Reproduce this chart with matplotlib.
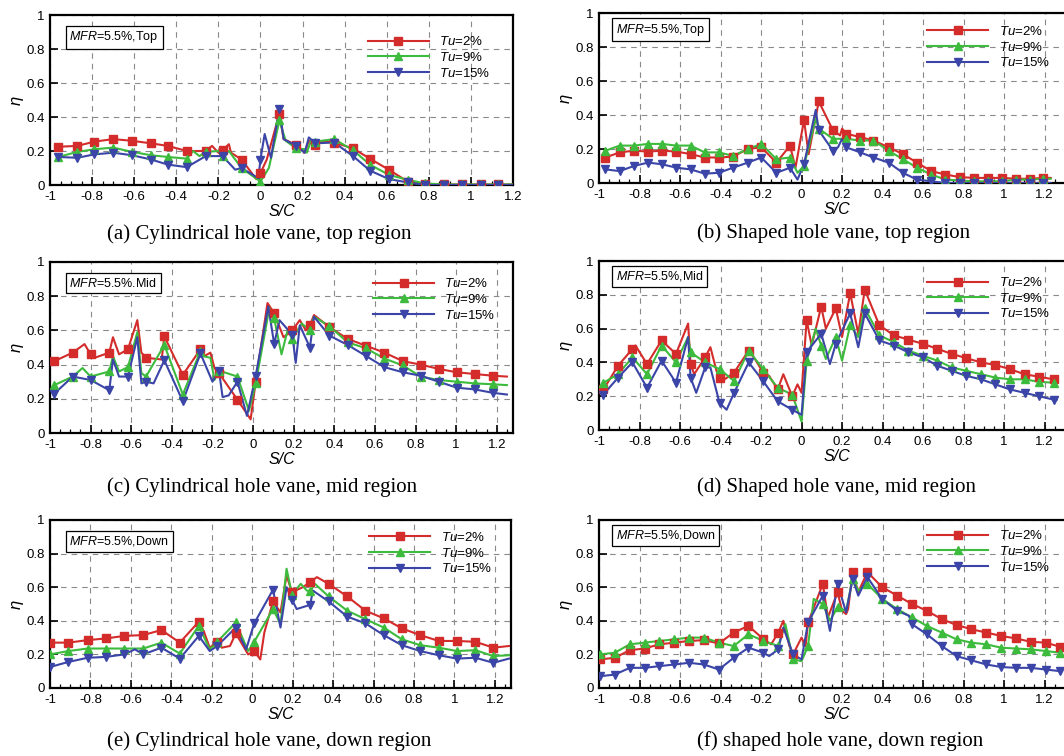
import matplotlib
matplotlib.use('Agg')
import matplotlib.pyplot as plt
from matplotlib.ticker import MultipleLocator, FuncFormatter

plt.rcParams['font.family'] = ['Liberation Sans', 'DejaVu Sans']
plt.rcParams['mathtext.fontset'] = 'custom'
plt.rcParams['mathtext.it'] = 'Liberation Sans:italic'
plt.rcParams['mathtext.rm'] = 'Liberation Sans'

# ---------------- (a) cylindrical hole, top ----------------
a_mx = [-0.96, -0.87, -0.79, -0.70, -0.61, -0.52, -0.44, -0.35, -0.26, -0.18, -0.09, 0.0,
        0.09, 0.17, 0.26, 0.35, 0.44, 0.52, 0.61, 0.70, 0.78, 0.87, 0.96, 1.05, 1.13]
a_tu2 = [0.225, 0.23, 0.255, 0.27, 0.26, 0.245, 0.23, 0.20, 0.20, 0.205, 0.15, 0.07,
         0.42, 0.235, 0.235, 0.25, 0.215, 0.155, 0.09, 0.02, 0.005, 0.003, 0.003, 0.003, 0.003]
a_tu2_ex = [(-0.23, 0.23), (-0.20, 0.19), (-0.15, 0.24), (-0.14, 0.19), (-0.02, 0.035),
            (0.03, 0.15), (0.11, 0.27), (0.21, 0.19), (0.23, 0.26), (0.30, 0.26), (1.2, 0.003)]
a_tu9 = [0.165, 0.195, 0.21, 0.22, 0.195, 0.175, 0.165, 0.155, 0.195, 0.17, 0.10, 0.02,
         0.38, 0.215, 0.255, 0.27, 0.205, 0.12, 0.06, 0.03, 0.01, 0.003, 0.003, 0.003, 0.003]
a_tu9_ex = [(-0.32, 0.20), (-0.29, 0.17), (-0.20, 0.20), (-0.15, 0.20), (0.04, 0.10),
            (0.12, 0.26), (0.21, 0.21), (0.22, 0.19), (0.24, 0.26), (1.2, 0.003)]
a_tu15 = [0.165, 0.16, 0.18, 0.19, 0.175, 0.15, 0.12, 0.105, 0.17, 0.17, 0.10, 0.15,
          0.45, 0.23, 0.245, 0.25, 0.17, 0.085, 0.035, 0.015, 0.0, 0.0, 0.0, 0.0, 0.0]
a_tu15_ex = [(-0.12, 0.09), (-0.01, 0.04), (0.02, 0.30), (0.05, 0.16), (0.11, 0.27),
             (0.21, 0.19), (0.23, 0.28), (1.2, 0.0)]

# ---------------- (b) shaped hole, top ----------------
b_mx = [-0.968, -0.898, -0.828, -0.758, -0.688, -0.618, -0.548, -0.478, -0.408, -0.339,
        -0.265, -0.199, -0.124, -0.057, 0.012, 0.085, 0.155, 0.22, 0.29, 0.355, 0.43,
        0.50, 0.57, 0.64, 0.71, 0.78, 0.85, 0.92, 0.99, 1.06, 1.13, 1.19]
b_tu2 = [0.15, 0.18, 0.19, 0.185, 0.19, 0.185, 0.17, 0.15, 0.15, 0.155, 0.20, 0.21,
         0.12, 0.22, 0.37, 0.48, 0.31, 0.29, 0.27, 0.25, 0.21, 0.17, 0.12, 0.07, 0.05,
         0.035, 0.03, 0.03, 0.03, 0.025, 0.025, 0.03]
b_tu2_ex = [(-0.03, 0.09), (0.035, 0.17), (0.19, 0.28), (0.20, 0.32), (1.23, 0.03)]
b_tu9 = [0.19, 0.22, 0.22, 0.23, 0.23, 0.22, 0.22, 0.18, 0.18, 0.16, 0.20, 0.23,
         0.14, 0.15, 0.10, 0.32, 0.26, 0.26, 0.25, 0.25, 0.19, 0.14, 0.09, 0.05, 0.02,
         0.015, 0.01, 0.01, 0.01, 0.02, 0.02, 0.025]
b_tu9_ex = [(-0.02, 0.06), (0.07, 0.38), (1.23, 0.025)]
b_tu15 = [0.08, 0.07, 0.10, 0.12, 0.11, 0.09, 0.08, 0.055, 0.06, 0.09, 0.12, 0.15,
          0.06, 0.09, 0.11, 0.31, 0.19, 0.21, 0.18, 0.15, 0.12, 0.06, 0.02, 0.01, 0.0,
          0.0, 0.0, 0.0, 0.0, 0.0, 0.0, 0.0]
b_tu15_ex = [(-0.02, 0.02), (0.07, 0.43), (0.18, 0.21), (0.20, 0.26), (1.23, 0.0)]

# ---------------- (c) cylindrical hole, mid ----------------
c_mx = [-0.979, -0.888, -0.80, -0.708, -0.616, -0.527, -0.437, -0.346, -0.259, -0.168,
        -0.077, 0.013, 0.104, 0.193, 0.28, 0.375, 0.466, 0.557, 0.647, 0.738, 0.825,
        0.914, 1.003, 1.092, 1.18]
c_tu2 = [0.42, 0.47, 0.46, 0.47, 0.49, 0.44, 0.565, 0.34, 0.49, 0.35, 0.195, 0.30,
         0.70, 0.60, 0.63, 0.62, 0.55, 0.51, 0.47, 0.42, 0.40, 0.375, 0.355, 0.345, 0.335]
c_tu2_ex = [(-0.83, 0.52), (-0.78, 0.44), (-0.69, 0.56), (-0.66, 0.46), (-0.57, 0.66),
            (-0.55, 0.47), (-0.45, 0.43), (-0.24, 0.45), (-0.21, 0.47), (-0.19, 0.38),
            (-0.012, 0.08), (0.071, 0.76), (0.15, 0.56), (0.23, 0.66), (0.26, 0.60),
            (0.30, 0.69), (1.25, 0.33)]
c_tu9 = [0.28, 0.33, 0.33, 0.36, 0.385, 0.33, 0.515, 0.225, 0.48, 0.365, 0.33, 0.29,
         0.67, 0.55, 0.60, 0.625, 0.53, 0.495, 0.435, 0.395, 0.33, 0.31, 0.30, 0.29, 0.285]
c_tu9_ex = [(-0.84, 0.38), (-0.69, 0.45), (-0.66, 0.36), (-0.57, 0.59), (-0.55, 0.35),
            (-0.25, 0.45), (-0.21, 0.44), (-0.19, 0.31), (-0.02, 0.13), (0.08, 0.73),
            (0.14, 0.46), (0.17, 0.60), (0.24, 0.64), (0.30, 0.68), (1.25, 0.28)]
c_tu15 = [0.23, 0.33, 0.31, 0.25, 0.33, 0.30, 0.425, 0.185, 0.465, 0.365, 0.30, 0.335,
          0.52, 0.575, 0.50, 0.57, 0.515, 0.45, 0.385, 0.355, 0.335, 0.30, 0.265, 0.255, 0.235]
c_tu15_ex = [(-0.69, 0.43), (-0.66, 0.33), (-0.57, 0.56), (-0.55, 0.29), (-0.49, 0.29),
             (-0.20, 0.30), (-0.15, 0.21), (-0.12, 0.22), (-0.03, 0.10), (0.075, 0.74),
             (0.13, 0.66), (0.21, 0.41), (0.23, 0.63), (0.30, 0.68), (1.25, 0.225)]

# ---------------- (d) shaped hole, mid ----------------
d_mx = [-0.978, -0.906, -0.835, -0.763, -0.691, -0.62, -0.548, -0.476, -0.405, -0.333,
        -0.261, -0.19, -0.118, -0.046, 0.025, 0.097, 0.169, 0.24, 0.312, 0.384, 0.456,
        0.527, 0.599, 0.671, 0.742, 0.814, 0.886, 0.957, 1.029, 1.101, 1.172, 1.244]
d_tu2 = [0.24, 0.38, 0.48, 0.39, 0.53, 0.45, 0.39, 0.43, 0.31, 0.34, 0.47, 0.34, 0.24,
         0.20, 0.65, 0.73, 0.72, 0.81, 0.83, 0.62, 0.56, 0.535, 0.51, 0.48, 0.45, 0.425,
         0.40, 0.385, 0.36, 0.33, 0.315, 0.30]
d_tu2_ex = [(-0.82, 0.50), (-0.56, 0.63), (-0.53, 0.33), (-0.45, 0.49), (-0.42, 0.35),
            (-0.38, 0.30), (-0.23, 0.42), (-0.16, 0.32), (-0.09, 0.33), (-0.02, 0.27),
            (0.0, 0.22), (0.05, 0.50), (0.12, 0.60), (0.2, 0.55), (0.28, 0.57), (1.26, 0.30)]
d_tu9 = [0.28, 0.33, 0.43, 0.33, 0.50, 0.40, 0.46, 0.40, 0.36, 0.29, 0.47, 0.36, 0.25,
         0.21, 0.41, 0.50, 0.55, 0.62, 0.72, 0.56, 0.52, 0.47, 0.44, 0.41, 0.37, 0.35,
         0.33, 0.31, 0.30, 0.30, 0.285, 0.28]
d_tu9_ex = [(-0.56, 0.55), (0.0, 0.05), (0.07, 0.60), (0.12, 0.42), (0.2, 0.41),
            (0.28, 0.55), (1.26, 0.28)]
d_tu15 = [0.21, 0.31, 0.40, 0.25, 0.41, 0.28, 0.31, 0.37, 0.16, 0.22, 0.40, 0.29, 0.17,
          0.12, 0.46, 0.57, 0.51, 0.69, 0.69, 0.53, 0.50, 0.46, 0.43, 0.38, 0.35, 0.32,
          0.30, 0.27, 0.24, 0.22, 0.20, 0.18]
d_tu15_ex = [(-0.56, 0.55), (-0.52, 0.22), (-0.45, 0.37), (-0.37, 0.12), (0.0, 0.09),
             (0.14, 0.39), (0.28, 0.49), (1.26, 0.18)]

# ---------------- (e) cylindrical hole, down ----------------
e_mx = [-1.0, -0.909, -0.814, -0.723, -0.633, -0.539, -0.449, -0.358, -0.264, -0.173,
        -0.081, 0.01, 0.103, 0.197, 0.287, 0.378, 0.47, 0.56, 0.65, 0.74, 0.83, 0.923,
        1.013, 1.104, 1.193]
e_tu2 = [0.27, 0.27, 0.285, 0.295, 0.31, 0.315, 0.345, 0.27, 0.395, 0.275, 0.325, 0.22,
         0.515, 0.57, 0.63, 0.62, 0.545, 0.46, 0.415, 0.355, 0.315, 0.28, 0.28, 0.275, 0.24]
e_tu2_ex = [(-0.24, 0.34), (-0.21, 0.24), (-0.15, 0.24), (-0.11, 0.25), (-0.02, 0.20),
            (0.04, 0.17), (0.06, 0.33), (0.14, 0.45), (0.17, 0.67), (0.25, 0.60),
            (0.32, 0.66), (1.27, 0.25)]
e_tu9 = [0.20, 0.22, 0.235, 0.235, 0.235, 0.235, 0.27, 0.205, 0.37, 0.275, 0.39, 0.275,
         0.47, 0.555, 0.575, 0.545, 0.46, 0.41, 0.36, 0.29, 0.255, 0.24, 0.22, 0.225, 0.19]
e_tu9_ex = [(-0.21, 0.23), (-0.02, 0.22), (0.14, 0.38), (0.17, 0.71), (0.24, 0.62),
            (0.27, 0.58), (0.31, 0.62), (1.27, 0.195)]
e_tu15 = [0.125, 0.155, 0.18, 0.185, 0.20, 0.20, 0.24, 0.175, 0.31, 0.25, 0.36, 0.385,
          0.585, 0.525, 0.495, 0.515, 0.425, 0.385, 0.315, 0.255, 0.22, 0.195, 0.175, 0.18, 0.15]
e_tu15_ex = [(-0.58, 0.23), (-0.21, 0.22), (-0.03, 0.23), (0.14, 0.36), (0.17, 0.60),
             (0.22, 0.47), (0.30, 0.58), (1.27, 0.175)]

# ---------------- (f) shaped hole, down ----------------
f_mx = [-0.995, -0.922, -0.848, -0.775, -0.702, -0.628, -0.555, -0.482, -0.408, -0.335,
        -0.262, -0.188, -0.115, -0.042, 0.032, 0.105, 0.178, 0.252, 0.325, 0.398, 0.472,
        0.545, 0.618, 0.692, 0.765, 0.838, 0.912, 0.985, 1.058, 1.132, 1.205, 1.278]
f_tu2 = [0.17, 0.18, 0.225, 0.235, 0.26, 0.27, 0.28, 0.285, 0.265, 0.33, 0.37, 0.29,
         0.33, 0.20, 0.39, 0.62, 0.57, 0.69, 0.69, 0.60, 0.55, 0.50, 0.46, 0.41, 0.375,
         0.35, 0.33, 0.31, 0.295, 0.275, 0.27, 0.245]
f_tu2_ex = [(-0.15, 0.26), (-0.09, 0.40), (-0.06, 0.25), (0.0, 0.30), (0.02, 0.25),
            (0.13, 0.42), (0.2, 0.46), (0.22, 0.44), (0.23, 0.47), (0.28, 0.57)]
f_tu9 = [0.20, 0.21, 0.26, 0.27, 0.28, 0.29, 0.30, 0.30, 0.27, 0.25, 0.32, 0.28, 0.25,
         0.17, 0.25, 0.50, 0.48, 0.65, 0.62, 0.53, 0.47, 0.42, 0.37, 0.33, 0.29, 0.27,
         0.26, 0.24, 0.235, 0.23, 0.22, 0.21]
f_tu9_ex = [(-0.08, 0.38), (0.0, 0.16), (0.06, 0.53), (0.14, 0.40), (0.22, 0.46),
            (0.28, 0.58)]
f_tu15 = [0.07, 0.08, 0.12, 0.12, 0.13, 0.14, 0.15, 0.14, 0.11, 0.18, 0.24, 0.21, 0.23,
          0.20, 0.39, 0.55, 0.62, 0.65, 0.66, 0.53, 0.46, 0.38, 0.32, 0.25, 0.19, 0.165,
          0.14, 0.125, 0.12, 0.12, 0.11, 0.10]
f_tu15_ex = [(-0.16, 0.19), (-0.09, 0.36), (0.0, 0.17), (0.14, 0.34), (0.22, 0.45),
             (0.28, 0.55), (0.53, 0.43)]

labels = ['$\\mathit{Tu}$=2%', '$\\mathit{Tu}$=9%', '$\\mathit{Tu}$=15%']
colors = ['#d42b2b', '#3dbb3d', '#3b45a8']
markers = ['s', '^', 'v']

W, H = 1064, 756
fig = plt.figure(figsize=(W / 100, H / 100), dpi=100)


def curve(mx, my, extra):
    pts = sorted(list(zip(mx, my)) + list(extra))
    return [p[0] for p in pts], [p[1] for p in pts]


def tick_text(v, pos):
    if abs(v) < 1e-9:
        return '0'
    return f'{v:.1f}'.rstrip('0').rstrip('.')


def panel(px, xmax, mx, series, note, note_xy, leg_xy, caption, cap_xy):
    left, top, right, bottom = px
    ax = fig.add_axes([left / W, 1 - bottom / H, (right - left) / W, (bottom - top) / H])
    handles = []
    for (my, extra), col, mk, lab in zip(series, colors, markers, labels):
        x, y = curve(mx, my, extra)
        ax.plot(x, y, color=col, lw=1.5, zorder=3)
        ax.plot(mx, my, ls='none', marker=mk, ms=5.5, color=col, mec=col, zorder=4)
        h, = ax.plot([], [], color=col, lw=1.5, marker=mk, ms=6, label=lab)
        handles.append(h)
    ax.set_xlim(-1, xmax)
    ax.set_ylim(0, 1)
    ax.xaxis.set_major_locator(MultipleLocator(0.2))
    ax.xaxis.set_minor_locator(MultipleLocator(0.05))
    ax.yaxis.set_major_locator(MultipleLocator(0.2))
    ax.xaxis.set_major_formatter(FuncFormatter(tick_text))
    ax.yaxis.set_major_formatter(FuncFormatter(tick_text))
    ax.tick_params(which='major', direction='in', length=6, width=1.2, labelsize=9.5,
                   top=False, right=False)
    ax.tick_params(axis='x', which='major', pad=4)
    ax.tick_params(axis='y', which='major', pad=4)
    ax.tick_params(which='minor', direction='in', length=3, width=0.9, top=False, right=False)
    ax.grid(True, which='major', color='#8a8a8a', lw=0.8, ls=(0, (5, 4.5)))
    for s in ax.spines.values():
        s.set_linewidth(1.6)
    ax.set_xlabel('S/C', fontsize=11.5, style='italic', labelpad=1)
    ax.set_ylabel('η', fontsize=12, style='italic', labelpad=2)
    ax.text(note_xy[0], note_xy[1], note, transform=ax.transAxes, fontsize=9,
            ha='left', va='top', zorder=6,
            bbox=dict(boxstyle='square,pad=0.3', fc='white', ec='black', lw=0.9))
    ax.legend(handles=handles, loc='upper left', bbox_to_anchor=leg_xy, frameon=False,
              fontsize=9.5, handlelength=4.6, handletextpad=0.8, labelspacing=0.2,
              borderaxespad=0, borderpad=0, numpoints=1)
    fig.text(cap_xy[0] / W, 1 - cap_xy[1] / H, caption, fontsize=15,
             family='Liberation Serif', ha='left', va='center')
    return ax


panel((50, 15, 513, 185), 1.2, a_mx,
      [(a_tu2, a_tu2_ex), (a_tu9, a_tu9_ex), (a_tu15, a_tu15_ex)],
      '$\\mathit{MFR}$=5.5%,Top', (0.042, 0.915), (0.687, 0.88),
      '(a) Cylindrical hole vane, top region', (107, 234))
panel((599, 13, 1075, 183), 1.35, b_mx,
      [(b_tu2, b_tu2_ex), (b_tu9, b_tu9_ex), (b_tu15, b_tu15_ex)],
      '$\\mathit{MFR}$=5.5%,Top', (0.035, 0.95), (0.69, 0.93),
      '(b) Shaped hole vane, top region', (697, 233))
panel((50, 262, 513, 433), 1.28, c_mx,
      [(c_tu2, c_tu2_ex), (c_tu9, c_tu9_ex), (c_tu15, c_tu15_ex)],
      '$\\mathit{MFR}$=5.5%.Mid', (0.042, 0.915), (0.698, 0.91),
      '(c) Cylindrical hole vane, mid region', (107, 487))
panel((599, 261, 1075, 430), 1.35, d_mx,
      [(d_tu2, d_tu2_ex), (d_tu9, d_tu9_ex), (d_tu15, d_tu15_ex)],
      '$\\mathit{MFR}$=5.5%,Mid', (0.035, 0.95), (0.69, 0.91),
      '(d) Shaped hole vane, mid region', (697, 487))
panel((50, 520, 511, 688), 1.28, e_mx,
      [(e_tu2, e_tu2_ex), (e_tu9, e_tu9_ex), (e_tu15, e_tu15_ex)],
      '$\\mathit{MFR}$=5.5%,Down', (0.042, 0.915), (0.693, 0.935),
      '(e) Cylindrical hole vane, down region', (107, 741))
panel((599, 520, 1075, 688), 1.35, f_mx,
      [(f_tu2, f_tu2_ex), (f_tu9, f_tu9_ex), (f_tu15, f_tu15_ex)],
      '$\\mathit{MFR}$=5.5%,Down', (0.035, 0.95), (0.69, 0.945),
      '(f) shaped hole vane, down region', (697, 741))

fig.savefig('out.png', dpi=100, facecolor='white')
